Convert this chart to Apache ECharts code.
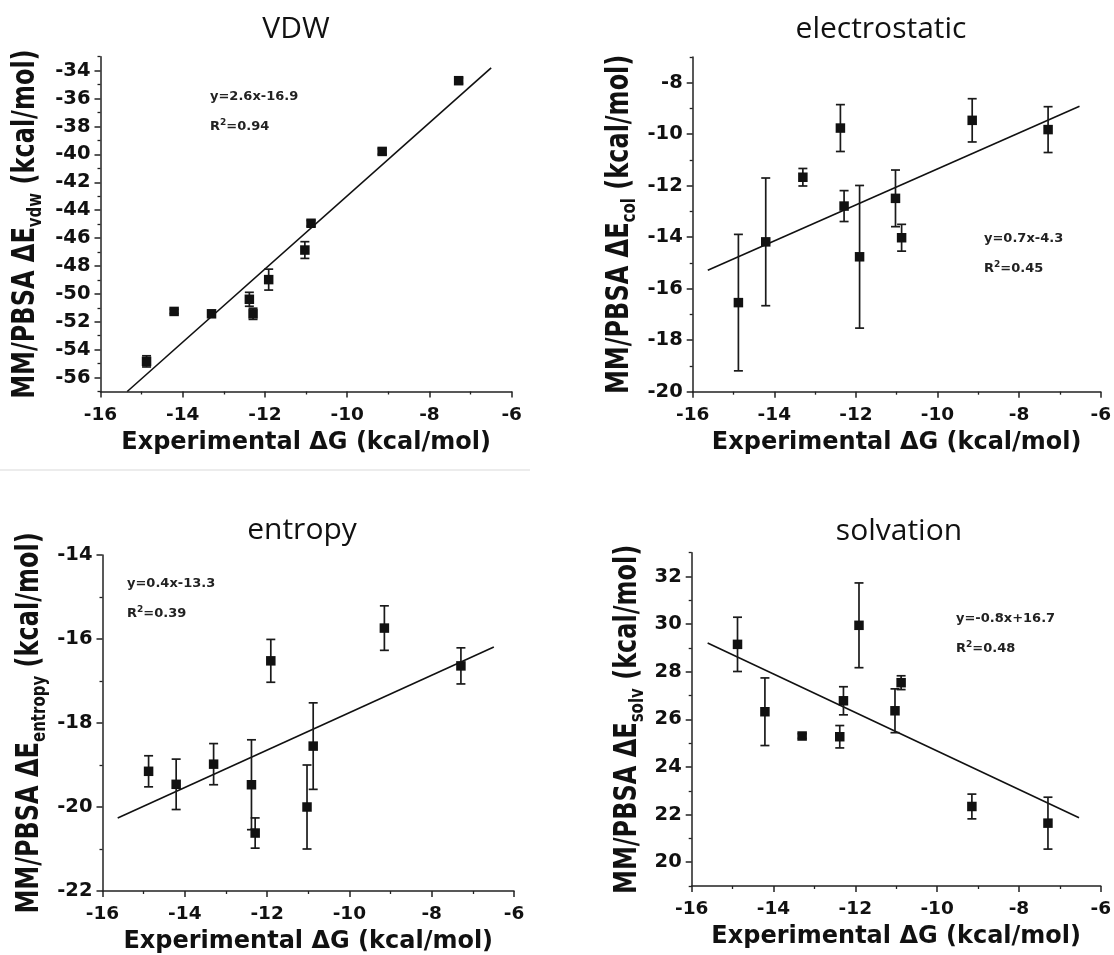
<!DOCTYPE html>
<html><head><meta charset="utf-8">
<script src="https://cdn.jsdelivr.net/npm/echarts@6/dist/echarts.min.js"></script>
<style>html,body{margin:0;padding:0;background:#fff}#c{width:1114px;height:955px}</style>
</head><body><div id="c"></div>
<script>
// ---------- data ----------
const expDG = [-14.88, -14.21, -13.30, -12.38, -12.29, -11.91, -11.03, -10.88, -9.15, -7.29];
const xTicks = [-16, -14, -12, -10, -8, -6];

const vdwVals = [-54.84, -51.26, -51.43, -50.39, -51.43, -48.98, -46.86, -44.94, -39.79, -34.72];
const vdwErr  = [0.40, 0.15, 0.15, 0.50, 0.40, 0.75, 0.60, 0.20, 0.20, 0.20];
const vdwFit  = [[-15.35, -57.0], [-6.50, -33.8]];
const vdwTicks = [-56, -54, -52, -50, -48, -46, -44, -42, -40, -38, -36, -34];
const vdwMinor = [-57, -55, -53, -51, -49, -47, -45, -43, -41, -39, -37, -35, -33];

const colVals = [-16.54, -14.18, -11.67, -9.76, -12.79, -14.76, -12.49, -14.02, -9.46, -9.82];
const colErr  = [2.65, 2.48, 0.34, 0.91, 0.60, 2.77, 1.10, 0.52, 0.84, 0.89];
const colFit  = [[-15.63, -15.28], [-6.52, -8.91]];
const colTicks = [-20, -18, -16, -14, -12, -10, -8];
const colMinor = [-19, -17, -15, -13, -11, -9, -7];

const entVals = [-19.15, -19.46, -18.98, -19.47, -20.62, -16.52, -20.00, -18.55, -15.74, -16.64];
const entErr  = [0.37, 0.60, 0.49, 1.07, 0.36, 0.51, 1.00, 1.03, 0.53, 0.43];
const entFit  = [[-15.63, -20.26], [-6.49, -16.19]];
const entTicks = [-22, -20, -18, -16, -14];
const entMinor = [-21, -19, -17, -15];

const solVals = [29.15, 26.32, 25.30, 25.27, 26.78, 29.95, 26.36, 27.54, 22.34, 21.64];
const solErr  = [1.14, 1.42, 0.10, 0.47, 0.59, 1.78, 0.92, 0.29, 0.52, 1.09];
const solFit  = [[-15.61, 29.21], [-6.53, 21.87]];
const solTicks = [20, 22, 24, 26, 28, 30, 32];
const solMinor = [19, 21, 23, 25, 27, 29, 31, 33];

const titles = ['VDW', 'electrostatic', 'entropy', 'solvation'];
const subs = ['vdw', 'col', 'entropy', 'solv'];
const eqs = ['y=2.6x-16.9', 'y=0.7x-4.3', 'y=0.4x-13.3', 'y=-0.8x+16.7'];
const r2s = ['0.94', '0.45', '0.39', '0.48'];
const xName = 'Experimental \u0394G (kcal/mol)';

// ---------- layout ----------
const panels = [
  {vals: vdwVals, err: vdwErr, fit: vdwFit, ticks: vdwTicks, minor: vdwMinor, yMin: -57, yMax: -33,
   grid: {left: 100.5, top: 56.7, width: 411.2, height: 334.8}, tPos: [296, 29], ePos: [210, 97], yNameX: 26},
  {vals: colVals, err: colErr, fit: colFit, ticks: colTicks, minor: colMinor, yMin: -20, yMax: -7,
   grid: {left: 692.7, top: 57, width: 413.5, height: 334.7}, tPos: [881, 29], ePos: [984, 239], yNameX: 620},
  {vals: entVals, err: entErr, fit: entFit, ticks: entTicks, minor: entMinor, yMin: -22, yMax: -14,
   grid: {left: 102.5, top: 555, width: 411.5, height: 336}, tPos: [302, 530], ePos: [127, 584], yNameX: 30},
  {vals: solVals, err: solErr, fit: solFit, ticks: solTicks, minor: solMinor, yMin: 19, yMax: 33,
   grid: {left: 691.7, top: 552.7, width: 413.5, height: 333.3}, tPos: [899, 531], ePos: [956, 619], yNameX: 628}
];

const FONT = 'DejaVu Sans';
const INK = '#111';
const lineSt = {color: '#222', width: 1.5};

const grids = [], xAxes = [], yAxes = [], series = [], graphics = [];

panels.forEach((p, i) => {
  const gMain = 2 * i, gMinor = 2 * i + 1;
  grids.push(Object.assign({containLabel: false}, p.grid));
  grids.push(Object.assign({containLabel: false}, p.grid));

  xAxes.push({
    type: 'value', gridIndex: gMain, min: -16, max: -6, interval: 2,
    name: xName, nameLocation: 'middle', nameGap: 39,
    nameTextStyle: {fontFamily: FONT, fontWeight: 'bold', fontSize: 24, color: INK},
    axisLine: {show: true, onZero: false, lineStyle: lineSt},
    axisTick: {show: true, length: 6, lineStyle: lineSt, customValues: xTicks},
    minorTick: {show: true, splitNumber: 2, length: 3, lineStyle: {color: '#222', width: 1.3}},
    axisLabel: {margin: 14, fontFamily: FONT, fontWeight: 'bold', fontSize: 18.5, color: INK, customValues: xTicks},
    splitLine: {show: false}, minorSplitLine: {show: false}
  });
  xAxes.push({type: 'value', gridIndex: gMinor, min: -16, max: -6, show: false});

  yAxes.push({
    type: 'value', gridIndex: gMain, min: p.yMin, max: p.yMax, position: 'left',
    axisLine: {show: true, onZero: false, lineStyle: lineSt},
    axisTick: {show: true, length: 6, lineStyle: lineSt, customValues: p.ticks},
    axisLabel: {margin: 10, fontFamily: FONT, fontWeight: 'bold', fontSize: 19.5, color: INK, customValues: p.ticks},
    splitLine: {show: false}
  });
  yAxes.push({
    type: 'value', gridIndex: gMinor, min: p.yMin, max: p.yMax, position: 'left',
    axisLine: {show: false},
    axisTick: {show: true, length: 3, lineStyle: {color: '#222', width: 1.3}, customValues: p.minor},
    axisLabel: {show: false}, splitLine: {show: false}
  });

  const xi = 2 * i, yi = 2 * i;
  series.push({
    type: 'custom', xAxisIndex: xi, yAxisIndex: yi, z: 3, silent: true,
    encode: {x: 0, y: [1, 2]},
    data: expDG.map((x, j) => [x, p.vals[j] - p.err[j], p.vals[j] + p.err[j]]),
    renderItem: (params, api) => {
      const x = api.value(0);
      const a = api.coord([x, api.value(2)]);
      const b = api.coord([x, api.value(1)]);
      const w = 4.5;
      const st = {stroke: '#1a1a1a', lineWidth: 1.7};
      return {type: 'group', children: [
        {type: 'line', shape: {x1: a[0], y1: a[1], x2: b[0], y2: b[1]}, style: st},
        {type: 'line', shape: {x1: a[0] - w, y1: a[1], x2: a[0] + w, y2: a[1]}, style: st},
        {type: 'line', shape: {x1: b[0] - w, y1: b[1], x2: b[0] + w, y2: b[1]}, style: st}
      ]};
    }
  });
  series.push({
    type: 'line', xAxisIndex: xi, yAxisIndex: yi, z: 2, silent: true,
    data: p.fit, showSymbol: false, symbol: 'none',
    lineStyle: {color: '#111', width: 1.6}
  });
  series.push({
    type: 'scatter', xAxisIndex: xi, yAxisIndex: yi, z: 4, silent: true,
    data: expDG.map((x, j) => [x, p.vals[j]]),
    symbol: 'rect', symbolSize: 9.5, itemStyle: {color: '#111', opacity: 1}
  });

  // y-axis title (rotated, slightly stretched across like the original figure)
  graphics.push({
    type: 'text', x: p.yNameX, y: p.grid.top + p.grid.height / 2,
    rotation: Math.PI / 2, scaleY: 1.3,
    style: {text: 'MM/PBSA \u0394E{sub|' + subs[i] + '} (kcal/mol)', fontFamily: FONT, fontWeight: 'bold', fontSize: 24,
      fill: INK, lineHeight: 30,
      rich: {sub: {fontFamily: FONT, fontWeight: 'bold', fontSize: 15, fill: INK, lineHeight: 16, verticalAlign: 'bottom'}},
      align: 'center', verticalAlign: 'middle', textAlign: 'center', textVerticalAlign: 'middle'}
  });
  graphics.push({
    type: 'text', x: p.tPos[0], y: p.tPos[1],
    style: {text: titles[i], fontFamily: 'Open Sans', fontSize: 30, fontWeight: 'normal', fill: '#111',
      align: 'center', verticalAlign: 'middle', textAlign: 'center', textVerticalAlign: 'middle'}
  });
  graphics.push({
    type: 'text', x: p.ePos[0], y: p.ePos[1],
    style: {text: eqs[i], fontFamily: FONT, fontSize: 13, fontWeight: 'bold', fill: '#222',
      align: 'left', verticalAlign: 'middle', textAlign: 'left', textVerticalAlign: 'middle'}
  });
  graphics.push({
    type: 'text', x: p.ePos[0], y: p.ePos[1] + 30,
    style: {text: 'R{sup|2}=' + r2s[i], fontFamily: FONT, fontSize: 13, fontWeight: 'bold', fill: '#222', lineHeight: 18,
      rich: {sup: {fontFamily: FONT, fontSize: 9, fontWeight: 'bold', fill: '#222', lineHeight: 10, verticalAlign: 'top'}},
      align: 'left', verticalAlign: 'middle', textAlign: 'left', textVerticalAlign: 'middle'}
  });
});

graphics.push({type: 'line', shape: {x1: 0, y1: 470, x2: 530, y2: 470}, style: {stroke: '#e6e6e6', lineWidth: 1.5}});

const chart = echarts.init(document.getElementById('c'));
chart.setOption({
  animation: false,
  backgroundColor: '#fff',
  grid: grids, xAxis: xAxes, yAxis: yAxes, series: series, graphic: graphics
});
</script></body></html>
